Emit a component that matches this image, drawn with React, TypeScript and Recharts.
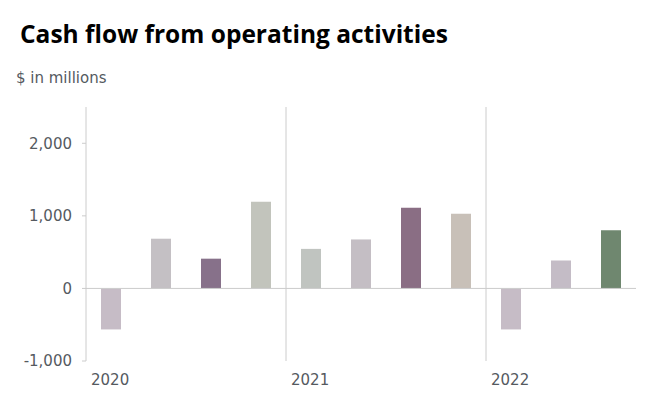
import React from "react";
import { BarChart, Bar, XAxis, YAxis, Cell, ReferenceLine } from "recharts";

const categories = [
  "2020 Q1", "2020 Q2", "2020 Q3", "2020 Q4",
  "2021 Q1", "2021 Q2", "2021 Q3", "2021 Q4",
  "2022 Q1", "2022 Q2", "2022 Q3",
];
const cashFlow = [-565, 685, 410, 1195, 545, 675, 1110, 1030, -565, 385, 800];
const barColors = [
  "#c6bcc6", "#c4c0c4", "#87718a", "#c2c4bc",
  "#c0c4c0", "#c4bec4", "#8a6e84", "#c8c0b8",
  "#c6bcc6", "#c4bcc6", "#6f876f",
];
const yTicks = [-1000, 0, 1000, 2000];
const yearStarts = ["2020 Q1", "2021 Q1", "2022 Q1"];

const data = categories.map((c, i) => ({ name: c, value: cashFlow[i] }));

const FONT = "'DejaVu Sans', sans-serif";
const TEXT = "#555a5f";

const YearTick = (props: any) => {
  const { x, y, payload } = props;
  if (!yearStarts.includes(payload.value)) return null;
  const start = x - (payload.offset || 0);
  return (
    <text x={start + 5} y={y + 16} textAnchor="start" fontSize={15} fill={TEXT} fontFamily={FONT}>
      {String(payload.value).slice(0, 4)}
    </text>
  );
};

export default function App() {
  return (
    <div style={{ position: "fixed", left: 0, top: 0, width: 667, height: 408, background: "#fff" }}>
      <div
        style={{
          position: "absolute",
          left: 20,
          top: 17,
          fontFamily: "'Open Sans', sans-serif",
          fontWeight: 700,
          fontSize: 24.5,
          color: "#000",
          whiteSpace: "nowrap",
        }}
      >
        Cash flow from operating activities
      </div>
      <div
        style={{
          position: "absolute",
          left: 16,
          top: 69,
          fontFamily: FONT,
          fontSize: 15,
          color: TEXT,
          whiteSpace: "nowrap",
        }}
      >
        $ in millions
      </div>
      <div style={{ position: "absolute", left: 0, top: 0 }}>
        <BarChart
          width={667}
          height={408}
          data={data}
          margin={{ top: 107, right: 31, bottom: 17, left: 0 }}
          barCategoryGap={15}
        >
          <XAxis
            dataKey="name"
            axisLine={false}
            tickLine={false}
            interval={0}
            height={30}
            tick={<YearTick />}
          />
          <YAxis
            width={86}
            domain={[-1000, 2500]}
            ticks={yTicks}
            interval={0}
            axisLine={{ stroke: "#cccccc" }}
            tickLine={{ stroke: "#cccccc" }}
            tickSize={4}
            tickMargin={10}
            tickFormatter={(v: number) => v.toLocaleString("en-US")}
            tick={{ fontSize: 15, fill: TEXT, fontFamily: FONT }}
          />
          <ReferenceLine y={0} stroke="#cccccc" />
          <ReferenceLine x="2021 Q1" position="start" stroke="#cccccc" />
          <ReferenceLine x="2022 Q1" position="start" stroke="#cccccc" />
          <Bar dataKey="value" barSize={20} isAnimationActive={false}>
            {data.map((d, i) => (
              <Cell key={d.name} fill={barColors[i]} />
            ))}
          </Bar>
        </BarChart>
      </div>
    </div>
  );
}
